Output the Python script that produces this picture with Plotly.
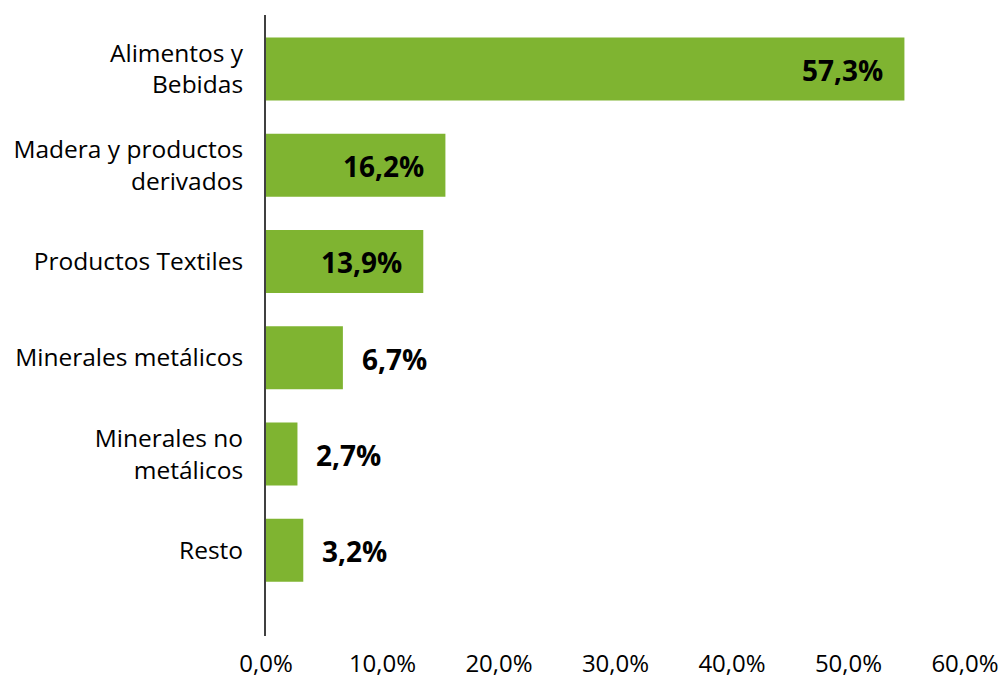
import plotly.graph_objects as go

categories = ["Alimentos y<br>Bebidas", "Madera y productos<br>derivados", "Productos Textiles",
              "Minerales metálicos", "Minerales no<br>metálicos", "Resto"]
bar_values = [54.8, 15.4, 13.5, 6.6, 2.7, 3.2]
value_labels = ["57,3%", "16,2%", "13,9%", "6,7%", "2,7%", "3,2%"]
x_ticks = [0, 10, 20, 30, 40, 50, 60]
x_tick_labels = ["0,0%", "10,0%", "20,0%", "30,0%", "40,0%", "50,0%", "60,0%"]

FONT = "Open Sans"
fig = go.Figure(go.Bar(
    x=bar_values, y=categories, orientation="h",
    marker=dict(color="#7fb431", line=dict(width=0)),
    hoverinfo="skip",
))

annotations = []
for cat, v, lab in zip(categories, bar_values, value_labels):
    inside = v > 10
    annotations.append(dict(
        x=v, y=cat, xref="x", yref="y", text=lab, showarrow=False,
        xanchor="right" if inside else "left", xshift=-19 if inside else 17,
        yanchor="middle", yshift=-1,
        font=dict(family=FONT, size=28, color="#000000", weight="bold"),
    ))

fig.update_layout(
    width=1002, height=677,
    margin=dict(l=266, r=37, t=15, b=41, autoexpand=False),
    paper_bgcolor="white", plot_bgcolor="white",
    bargap=0.346, showlegend=False,
    annotations=annotations,
    font=dict(family=FONT, color="#000000"),
    xaxis=dict(range=[0, 60], tickvals=x_ticks, ticktext=x_tick_labels,
               showgrid=False, zeroline=False, showline=False, ticks="",
               tickfont=dict(family=FONT, size=24, color="#000000"),
               ticklabelstandoff=11, automargin=False, fixedrange=True),
    yaxis=dict(type="category", categoryarray=categories, range=[5.89, -0.56],
               showgrid=False, zeroline=False, showline=True, linecolor="#404040",
               linewidth=2, ticks="", tickfont=dict(family=FONT, size=24.5, color="#000000"),
               ticklabelstandoff=16, automargin=False, fixedrange=True),
)

fig.write_html("out.html", config={"displayModeBar": False},
               post_script="document.body.style.margin='0';document.body.style.overflow='hidden';window.dispatchEvent(new Event('resize'));")
